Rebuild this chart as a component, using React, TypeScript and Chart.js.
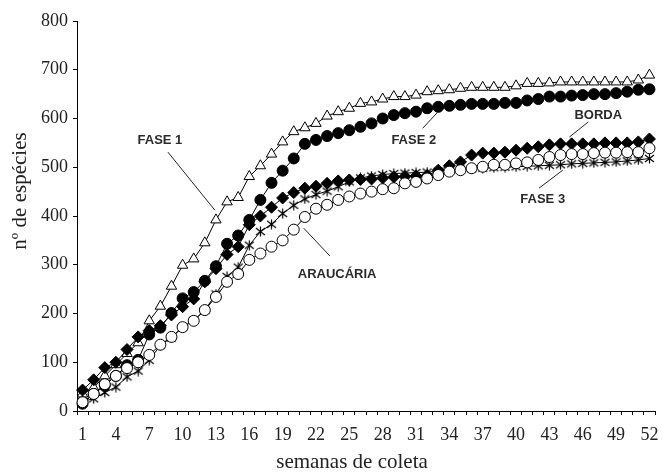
import React, { useEffect, useRef } from "react";
import { Chart, registerables } from "chart.js";

Chart.register(...registerables);

const weeks = [
  "1","2","3","4","5","6","7","8","9","10","11","12","13","14","15","16","17","18","19","20",
  "21","22","23","24","25","26","27","28","29","30","31","32","33","34","35","36","37","38","39","40",
  "41","42","43","44","45","46","47","48","49","50","51","52",
];

const fase1 = [35,48,72,95,118,140,185,215,256,299,312,345,392,429,438,481,503,527,552,573,581,590,605,
  614,621,631,634,640,645,645,648,655,657,659,662,664,664,664,664,667,672,672,673,675,675,675,675,675,675,675,679,689];
const fase2 = [15,35,53,72,94,105,157,171,201,231,244,267,297,343,360,392,433,468,493,518,548,556,564,
  570,576,583,590,600,607,611,614,621,624,626,628,630,630,630,632,632,637,640,645,645,647,648,650,650,652,655,659,660];
const borda = [43,64,89,100,126,152,165,175,197,214,230,265,292,321,337,382,400,418,437,448,457,461,467,
  472,474,475,476,478,480,481,482,483,494,503,511,525,529,529,531,535,539,542,546,548,548,548,548,550,550,550,552,558];
const fase3 = [20,25,38,49,70,82,104,135,150,172,186,207,240,276,295,340,368,383,405,422,435,444,451,
  460,470,478,482,485,487,488,489,490,492,494,496,497,498,499,500,501,502,503,504,505,507,508,509,510,511,513,515,518];
const araucaria = [18,35,55,72,88,100,115,136,152,172,185,207,234,265,281,310,323,337,350,372,398,415,423,
  433,440,446,450,455,457,467,470,477,484,491,494,498,501,505,505,508,510,515,521,525,527,527,529,530,530,531,531,539];

const xTitle = "semanas de coleta";
const yTitle = "nº de espécies";

// labels with leader lines, in data coordinates (week, species)
const labelNames = ["FASE 1", "FASE 2", "BORDA", "FASE 3", "ARAUCÁRIA"];
const labelAt = [[7.96, 556], [30.8, 556], [47.4, 607], [42.4, 435], [23.9, 281]];
const leaderFrom = [[8.68, 531], [31.6, 580], [46.5, 593], [42.06, 457], [20.9, 375]];
const leaderTo = [[12.9, 412], [32.95, 613], [44.8, 562], [44.2, 494], [23.25, 318]];

const serif = "'Liberation Serif', 'Times New Roman', serif";

function makeAsterisk(): HTMLCanvasElement {
  const c = document.createElement("canvas");
  c.width = 11;
  c.height = 11;
  const g = c.getContext("2d")!;
  g.strokeStyle = "#000";
  g.lineWidth = 1.2;
  g.beginPath();
  g.moveTo(5.5, 0.5); g.lineTo(5.5, 10.5);
  g.moveTo(1, 2); g.lineTo(10, 9);
  g.moveTo(10, 2); g.lineTo(1, 9);
  g.stroke();
  return c;
}

const overlayPlugin = {
  id: "overlay",
  afterDraw(chart: any) {
    const { ctx, scales } = chart;
    const xs = scales.x, ys = scales.y;
    const px = (w: number) => xs.getPixelForValue(w - 1);
    const py = (v: number) => ys.getPixelForValue(v);
    ctx.save();
    ctx.strokeStyle = "#222";
    ctx.lineWidth = 1;
    ctx.fillStyle = "#2a2a2a";
    ctx.font = "bold 13px 'Liberation Sans', Arial, sans-serif";
    ctx.textAlign = "center";
    ctx.textBaseline = "middle";
    labelNames.forEach((name, i) => {
      ctx.beginPath();
      ctx.moveTo(px(leaderFrom[i][0]), py(leaderFrom[i][1]));
      ctx.lineTo(px(leaderTo[i][0]), py(leaderTo[i][1]));
      ctx.stroke();
      ctx.fillText(name, px(labelAt[i][0]), py(labelAt[i][1]));
    });
    // axis titles
    ctx.fillStyle = "#222";
    ctx.font = `21px ${serif}`;
    ctx.fillText(xTitle, 352, 462);
    ctx.translate(20, 191);
    ctx.rotate(-Math.PI / 2);
    ctx.fillText(yTitle, 0, 0);
    ctx.restore();
  },
};

export default function App() {
  const ref = useRef<HTMLCanvasElement | null>(null);
  useEffect(() => {
    if (!ref.current) return;
    const base = {
      borderColor: "#000",
      borderWidth: 1,
      pointBorderColor: "#000",
      pointBorderWidth: 1,
      tension: 0,
    };
    const chart = new Chart(ref.current, {
      type: "line",
      data: {
        labels: weeks,
        datasets: [
          { ...base, label: "ARAUCÁRIA", data: araucaria, pointStyle: "circle", pointRadius: 5.5, pointBackgroundColor: "#fff", backgroundColor: "#fff" },
          { ...base, label: "FASE 3", data: fase3, pointStyle: makeAsterisk(), pointRadius: 5, pointBackgroundColor: "#000", backgroundColor: "#000" },
          { ...base, label: "BORDA", data: borda, pointStyle: "rectRot", pointRadius: 6, pointBackgroundColor: "#000", backgroundColor: "#000" },
          { ...base, label: "FASE 2", data: fase2, pointStyle: "circle", pointRadius: 5.5, pointBackgroundColor: "#000", backgroundColor: "#000" },
          { ...base, label: "FASE 1", data: fase1, pointStyle: "triangle", pointRadius: 6, pointBackgroundColor: "#fff", backgroundColor: "#fff" },
        ],
      },
      options: {
        animation: false,
        responsive: false,
        layout: { padding: { left: 0, top: 21, right: 7, bottom: 0 } },
        plugins: { legend: { display: false }, tooltip: { enabled: false } },
        scales: {
          x: {
            type: "category",
            offset: true,
            border: { color: "#000", width: 1 },
            grid: { offset: true, drawOnChartArea: false, drawTicks: true, tickLength: 4, color: "#000" },
            ticks: {
              autoSkip: false,
              maxRotation: 0,
              padding: 9,
              color: "#222",
              font: { family: serif, size: 18 },
              callback: (_v: any, i: number) => (i % 3 === 0 ? weeks[i] : ""),
            },
            afterFit: (s: any) => { s.height = 63; s.paddingLeft = 0; s.paddingRight = 0; },
          },
          y: {
            min: 0,
            max: 800,
            border: { color: "#000", width: 1 },
            grid: { drawOnChartArea: false, drawTicks: true, tickLength: 4, color: "#000" },
            ticks: {
              stepSize: 100,
              padding: 5,
              color: "#222",
              font: { family: serif, size: 18 },
            },
            afterFit: (s: any) => { s.width = 77; s.paddingTop = 0; s.paddingBottom = 0; },
          },
        },
      },
      plugins: [overlayPlugin],
    });
    return () => chart.destroy();
  }, []);
  return (
    <div style={{ position: "absolute", left: 0, top: 0, width: 662, height: 474, background: "#fff" }}>
      <canvas ref={ref} width={662} height={474} style={{ display: "block" }} />
    </div>
  );
}
